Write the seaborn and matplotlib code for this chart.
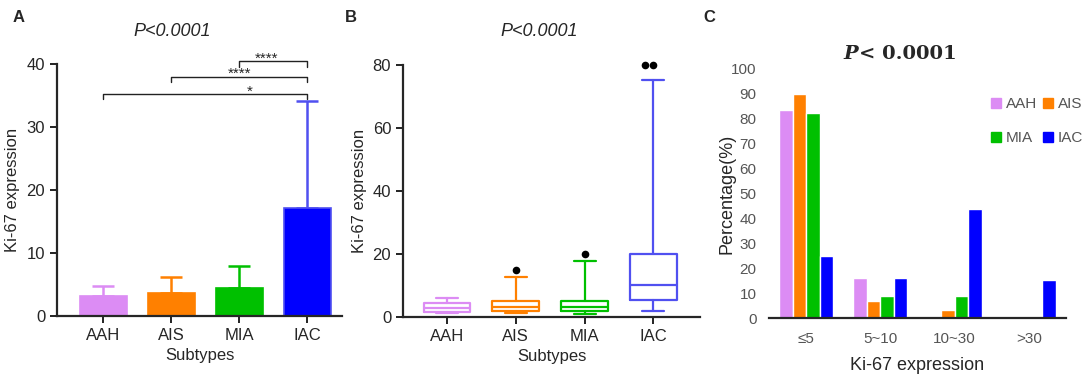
import numpy as np
import pandas as pd
import matplotlib
matplotlib.use('Agg')
import matplotlib.pyplot as plt
from matplotlib.patches import Patch
import seaborn as sns

sns.set_style('ticks')
plt.rcParams['font.family'] = ['Liberation Sans', 'DejaVu Sans']

# ---- data ----
subtypes = ['AAH', 'AIS', 'MIA', 'IAC']
colors = ['#dc8cf4', '#ff8000', '#00c000', '#0000ff']
box_colors = ['#dc8cf4', '#ff8000', '#00c000', '#5050f0']

# panel A: mean + SD (upper only)
a_mean = [3.1, 3.7, 4.5, 17.1]
a_upper = [4.8, 6.2, 7.9, 34.2]
# significance brackets: (left group, right group, height, label, label x, label y)
brackets = [(0, 3, 35.3, '*', 2.15, 35.6),
            (1, 3, 38.0, '****', 2.0, 38.4),
            (2, 3, 40.5, '****', 2.4, 40.9)]

# panel B: box stats
b_whislo = [1.2, 1.2, 1.0, 2.0]
b_q1 = [1.6, 1.9, 1.9, 5.4]
b_med = [3.0, 3.3, 3.3, 10.1]
b_q3 = [4.6, 5.2, 5.2, 20.0]
b_whishi = [6.0, 12.6, 17.8, 75.3]
b_out_group = ['AIS', 'MIA', 'IAC', 'IAC']
b_out_value = [14.9, 20.0, 80.0, 80.0]

# panel C: percentage per Ki-67 bin
c_bins = ['≤5', '5~10', '10~30', '>30']
c_pct = {'AAH': [83.5, 16.2, 0, 0],
         'AIS': [89.8, 6.8, 3.3, 0],
         'MIA': [82.3, 8.7, 8.7, 0],
         'IAC': [24.8, 16.0, 43.7, 15.1]}

W, H = 1084, 384
fig = plt.figure(figsize=(W / 100, H / 100), dpi=100)

axA = fig.add_axes([57 / W, 1 - 316 / H, (342 - 57) / W, (316 - 64) / H])
axB = fig.add_axes([403 / W, 1 - 317 / H, (700 - 403) / W, (317 - 65) / H])
axC = fig.add_axes([769 / W, 1 - 318 / H, (1066 - 769) / W, (318 - 69) / H])

# ---------- panel A ----------
sns.barplot(x=subtypes, y=a_mean, hue=subtypes, palette=colors, width=0.69,
            saturation=1, legend=False, ax=axA, zorder=2)
for p, c in zip(axA.patches, box_colors):
    p.set_edgecolor(c)
    p.set_linewidth(1.2)
for i, (m, u) in enumerate(zip(a_mean, a_upper)):
    axA.errorbar(i, m, yerr=[[0], [u - m]], fmt='none', ecolor=box_colors[i],
                 elinewidth=1.8, capsize=8, capthick=1.8, zorder=1)
for l, r, h, lab, tx, ty in brackets:
    axA.plot([l, l, r, r], [h - 0.9, h, h, h - 0.9], color='#222222', lw=1.0, clip_on=False)
    axA.text(tx, ty, lab, ha='center', va='center', fontsize=11, clip_on=False)
axA.set_ylim(0, 40)
axA.set_xlim(-0.68, 3.51)
axA.set_yticks([0, 10, 20, 30, 40])
axA.set_ylabel('Ki-67 expression', fontsize=12, labelpad=5)
axA.set_xlabel('Subtypes', fontsize=12, labelpad=4)

# ---------- panel B ----------
stats = []
for i, g in enumerate(subtypes):
    stats.append(dict(label=g, whislo=b_whislo[i], q1=b_q1[i], med=b_med[i],
                      q3=b_q3[i], whishi=b_whishi[i], fliers=[]))
bp = axB.bxp(stats, positions=range(4), widths=0.68, showfliers=False,
             patch_artist=False, manage_ticks=False)
for i, c in enumerate(box_colors):
    bp['boxes'][i].set(color=c, lw=1.6)
    bp['medians'][i].set(color=c, lw=1.6)
    for k in (2 * i, 2 * i + 1):
        bp['whiskers'][k].set(color=c, lw=1.6)
        bp['caps'][k].set(color=c, lw=1.6)
        xd = bp['caps'][k].get_xdata()
        mid = np.mean(xd)
        bp['caps'][k].set_xdata([mid - 0.16, mid + 0.16])
df_out = pd.DataFrame({'group': b_out_group, 'value': b_out_value})
sns.swarmplot(data=df_out, x='group', y='value', order=subtypes, color='black',
              size=5.5, ax=axB, clip_on=False)
axB.set_ylim(0, 80)
axB.set_xlim(-0.64, 3.68)
axB.set_xticks(range(4))
axB.set_xticklabels(subtypes)
axB.set_yticks([0, 20, 40, 60, 80])
axB.set_ylabel('Ki-67 expression', fontsize=12, labelpad=4)
axB.set_xlabel('Subtypes', fontsize=12, labelpad=4)

for ax in (axA, axB):
    sns.despine(ax=ax)
    ax.spines['left'].set_linewidth(1.6)
    ax.spines['bottom'].set_linewidth(1.6)
    ax.tick_params(axis='both', labelsize=12, width=1.4, length=5, color='#222222')

# ---------- panel C ----------
df_c = pd.DataFrame([(b, s, c_pct[s][j]) for s in subtypes for j, b in enumerate(c_bins)],
                    columns=['bin', 'subtype', 'pct'])
sns.barplot(data=df_c, x='bin', y='pct', hue='subtype', hue_order=subtypes,
            order=c_bins, palette=colors, width=0.73, saturation=1, ax=axC)
axC.set_ylim(0, 100)
axC.set_xlim(-0.5, 3.5)
axC.set_yticks(range(0, 101, 10))
for s in ('left', 'top', 'right'):
    axC.spines[s].set_visible(False)
axC.spines['bottom'].set_linewidth(1.6)
axC.tick_params(axis='both', length=0, labelsize=11, labelcolor='#555555')
axC.tick_params(axis='y', pad=9)
axC.tick_params(axis='x', pad=10)
axC.set_ylabel('Percentage(%)', fontsize=13, labelpad=-3)
axC.set_xlabel('Ki-67 expression', fontsize=13, labelpad=8)
# legend filled row-wise: AAH AIS / MIA IAC
leg_order = [0, 2, 1, 3]
axC.legend(handles=[Patch(color=colors[i], label=subtypes[i]) for i in leg_order],
           ncol=2, frameon=False, loc='upper right', bbox_to_anchor=(1089 / W, 1 - 91 / H),
           bbox_transform=fig.transFigure, handlelength=0.65, handleheight=0.65,
           handletextpad=0.3, columnspacing=0.4, labelspacing=1.3, fontsize=11,
           labelcolor='#555555', borderaxespad=0)

# ---------- titles & panel letters ----------
fig.text(172 / W, 1 - 32 / H, 'P<0.0001', style='italic', fontsize=13, ha='center', va='center')
fig.text(539 / W, 1 - 32 / H, 'P<0.0001', style='italic', fontsize=13, ha='center', va='center')
fig.text(843 / W, 1 - 54 / H, 'P', style='italic', weight='bold', fontsize=14,
         family='DejaVu Serif', ha='left', va='center')
fig.text(859 / W, 1 - 54 / H, '< 0.0001', weight='bold', fontsize=14,
         family='DejaVu Serif', ha='left', va='center')
for lab, x in (('A', 13), ('B', 345), ('C', 703)):
    fig.text(x / W, 1 - 17 / H, lab, weight='bold', fontsize=12, ha='left', va='center')

fig.savefig('out.png', dpi=100)
